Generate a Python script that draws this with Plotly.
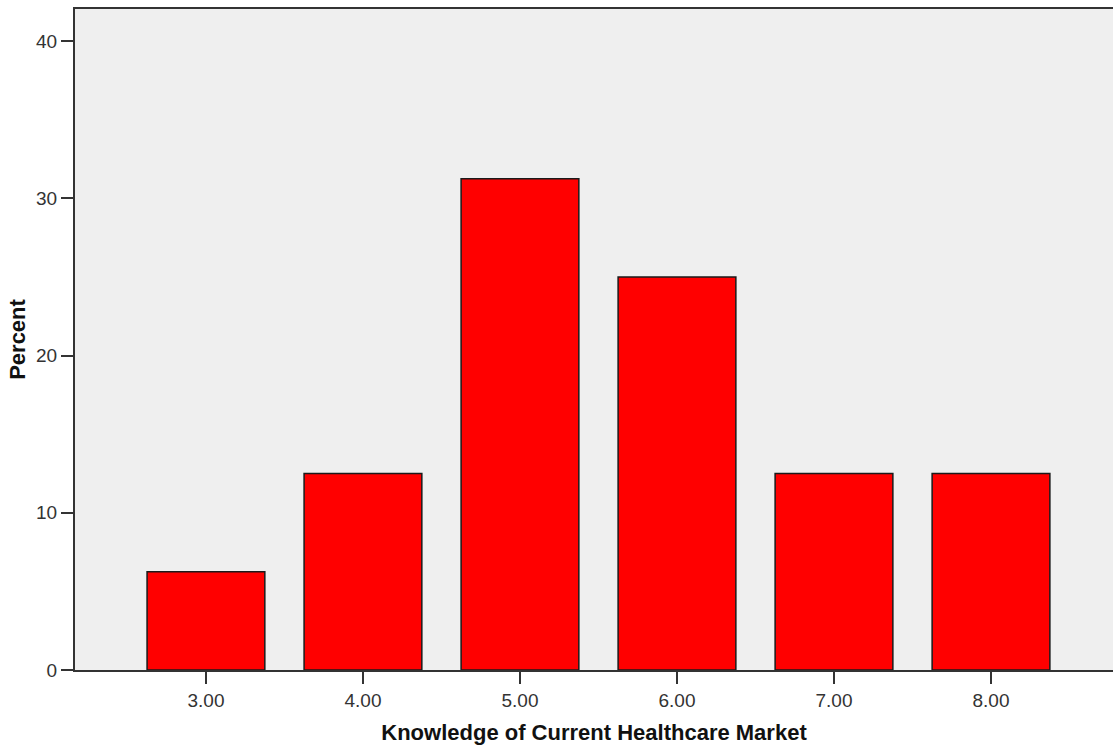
import plotly.graph_objects as go

categories = ["3.00", "4.00", "5.00", "6.00", "7.00", "8.00"]
percent = [6.25, 12.5, 31.25, 25.0, 12.5, 12.5]
y_ticks = [0, 10, 20, 30, 40]

fig = go.Figure()
fig.add_trace(go.Bar(
    x=categories, y=percent,
    marker=dict(color="#ff0000", line=dict(color="#1a1a1a", width=1.5)),
    width=0.75,
))

tick_font = dict(family="Liberation Sans Narrow, Arial Narrow, Liberation Sans, Arial", size=19, color="#333333")
title_font = dict(family="Liberation Sans, Arial", size=22, color="#111111")

fig.update_layout(
    width=1113, height=751,
    margin=dict(l=75, r=0, t=9, b=81),
    paper_bgcolor="white",
    plot_bgcolor="#efefef",
    showlegend=False,
    bargap=0.25,
    xaxis=dict(
        type="category",
        range=[-0.834, 5.777],
        showgrid=False, zeroline=False,
        showline=True, linecolor="#333333", linewidth=2, mirror=True,
        ticks="outside", ticklen=12, tickwidth=2, tickcolor="#333333",
        tickfont=tick_font,
        title=dict(text="<b>Knowledge of Current Healthcare Market</b>", font=title_font, standoff=15),
    ),
    yaxis=dict(
        range=[0, 42.05],
        tickvals=y_ticks,
        showgrid=False, zeroline=False,
        showline=True, linecolor="#333333", linewidth=2,
        ticks="outside", ticklen=12, tickwidth=2, tickcolor="#333333",
        tickfont=tick_font,
        title=dict(text="<b>Percent</b>", font=title_font, standoff=4),
    ),
)

fig.write_html(
    "out.html",
    config={"displayModeBar": False},
    post_script="document.body.style.margin='0';document.body.style.overflow='hidden';",
)
